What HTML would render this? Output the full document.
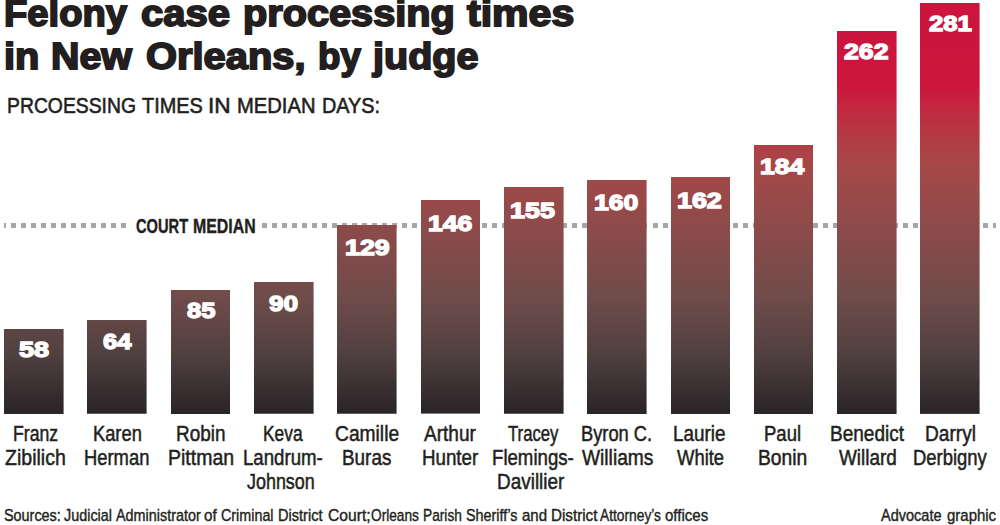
<!DOCTYPE html>
<html><head><meta charset="utf-8"><style>
html,body{margin:0;padding:0;background:#fff;width:1000px;height:525px;overflow:hidden;position:relative}
body{font-family:"Liberation Sans",sans-serif;color:#231f20}
.t{position:absolute;white-space:nowrap;transform-origin:0 0}
.dot{position:absolute;top:223px;height:5px;background:#a6a6a6}
.bar{position:absolute;width:59.6px;background-image:linear-gradient(to bottom, #cc143c 0px, #cc163c 85px, #c42640 105px, #b43a42 135px, #a64848 165px, #8e4a4a 225px, #704c4a 295px, #504040 355px, #322a2c 400px, #2a2526 414px);background-size:59.6px 414px;background-repeat:no-repeat}
</style></head><body>
<div class="dot" style="left:4.00px;width:2.20px"></div><div class="dot" style="left:11.22px;width:5.00px"></div><div class="dot" style="left:21.24px;width:5.00px"></div><div class="dot" style="left:31.26px;width:5.00px"></div><div class="dot" style="left:41.28px;width:5.00px"></div><div class="dot" style="left:51.30px;width:5.00px"></div><div class="dot" style="left:61.32px;width:5.00px"></div><div class="dot" style="left:71.34px;width:5.00px"></div><div class="dot" style="left:81.36px;width:5.00px"></div><div class="dot" style="left:91.38px;width:5.00px"></div><div class="dot" style="left:101.40px;width:5.00px"></div><div class="dot" style="left:111.42px;width:5.00px"></div><div class="dot" style="left:121.44px;width:5.00px"></div><div class="dot" style="left:261.72px;width:5.00px"></div><div class="dot" style="left:271.74px;width:5.00px"></div><div class="dot" style="left:281.76px;width:5.00px"></div><div class="dot" style="left:291.78px;width:5.00px"></div><div class="dot" style="left:301.80px;width:5.00px"></div><div class="dot" style="left:311.82px;width:5.00px"></div><div class="dot" style="left:321.84px;width:5.00px"></div><div class="dot" style="left:331.86px;width:5.00px"></div><div class="dot" style="left:341.88px;width:5.00px"></div><div class="dot" style="left:351.90px;width:5.00px"></div><div class="dot" style="left:361.92px;width:5.00px"></div><div class="dot" style="left:371.94px;width:5.00px"></div><div class="dot" style="left:381.96px;width:5.00px"></div><div class="dot" style="left:391.98px;width:5.00px"></div><div class="dot" style="left:402.00px;width:5.00px"></div><div class="dot" style="left:412.02px;width:5.00px"></div><div class="dot" style="left:422.04px;width:5.00px"></div><div class="dot" style="left:432.06px;width:5.00px"></div><div class="dot" style="left:442.08px;width:5.00px"></div><div class="dot" style="left:452.10px;width:5.00px"></div><div class="dot" style="left:462.12px;width:5.00px"></div><div class="dot" style="left:472.14px;width:5.00px"></div><div class="dot" style="left:482.16px;width:5.00px"></div><div class="dot" style="left:492.18px;width:5.00px"></div><div class="dot" style="left:502.20px;width:5.00px"></div><div class="dot" style="left:512.22px;width:5.00px"></div><div class="dot" style="left:522.24px;width:5.00px"></div><div class="dot" style="left:532.26px;width:5.00px"></div><div class="dot" style="left:542.28px;width:5.00px"></div><div class="dot" style="left:552.30px;width:5.00px"></div><div class="dot" style="left:562.32px;width:5.00px"></div><div class="dot" style="left:572.34px;width:5.00px"></div><div class="dot" style="left:582.36px;width:5.00px"></div><div class="dot" style="left:592.38px;width:5.00px"></div><div class="dot" style="left:602.40px;width:5.00px"></div><div class="dot" style="left:612.42px;width:5.00px"></div><div class="dot" style="left:622.44px;width:5.00px"></div><div class="dot" style="left:632.46px;width:5.00px"></div><div class="dot" style="left:642.48px;width:5.00px"></div><div class="dot" style="left:652.50px;width:5.00px"></div><div class="dot" style="left:662.52px;width:5.00px"></div><div class="dot" style="left:672.54px;width:5.00px"></div><div class="dot" style="left:682.56px;width:5.00px"></div><div class="dot" style="left:692.58px;width:5.00px"></div><div class="dot" style="left:702.60px;width:5.00px"></div><div class="dot" style="left:712.62px;width:5.00px"></div><div class="dot" style="left:722.64px;width:5.00px"></div><div class="dot" style="left:732.66px;width:5.00px"></div><div class="dot" style="left:742.68px;width:5.00px"></div><div class="dot" style="left:752.70px;width:5.00px"></div><div class="dot" style="left:762.72px;width:5.00px"></div><div class="dot" style="left:772.74px;width:5.00px"></div><div class="dot" style="left:782.76px;width:5.00px"></div><div class="dot" style="left:792.78px;width:5.00px"></div><div class="dot" style="left:802.80px;width:5.00px"></div><div class="dot" style="left:812.82px;width:5.00px"></div><div class="dot" style="left:822.84px;width:5.00px"></div><div class="dot" style="left:832.86px;width:5.00px"></div><div class="dot" style="left:842.88px;width:5.00px"></div><div class="dot" style="left:852.90px;width:5.00px"></div><div class="dot" style="left:862.92px;width:5.00px"></div><div class="dot" style="left:872.94px;width:5.00px"></div><div class="dot" style="left:882.96px;width:5.00px"></div><div class="dot" style="left:892.98px;width:5.00px"></div><div class="dot" style="left:903.00px;width:5.00px"></div><div class="dot" style="left:913.02px;width:5.00px"></div><div class="dot" style="left:923.04px;width:5.00px"></div><div class="dot" style="left:933.06px;width:5.00px"></div><div class="dot" style="left:943.08px;width:5.00px"></div><div class="dot" style="left:953.10px;width:5.00px"></div><div class="dot" style="left:963.12px;width:5.00px"></div><div class="dot" style="left:973.14px;width:5.00px"></div><div class="dot" style="left:983.16px;width:5.00px"></div><div class="dot" style="left:993.18px;width:2.82px"></div>
<div class="bar" style="left:4.15px;top:329.03px;height:84.77px;background-position:0 -329.03px"></div><div class="bar" style="left:87.45px;top:320.26px;height:93.54px;background-position:0 -320.26px"></div><div class="bar" style="left:170.75px;top:289.57px;height:124.23px;background-position:0 -289.57px"></div><div class="bar" style="left:254.05px;top:282.26px;height:131.53px;background-position:0 -282.26px"></div><div class="bar" style="left:337.35px;top:225.27px;height:188.53px;background-position:0 -225.27px"></div><div class="bar" style="left:420.65px;top:200.42px;height:213.38px;background-position:0 -200.42px"></div><div class="bar" style="left:503.95px;top:187.27px;height:226.53px;background-position:0 -187.27px"></div><div class="bar" style="left:587.25px;top:179.96px;height:233.84px;background-position:0 -179.96px"></div><div class="bar" style="left:670.55px;top:177.04px;height:236.76px;background-position:0 -177.04px"></div><div class="bar" style="left:753.85px;top:144.88px;height:268.92px;background-position:0 -144.88px"></div><div class="bar" style="left:837.15px;top:30.89px;height:382.91px;background-position:0 -30.89px"></div><div class="bar" style="left:920.45px;top:3.12px;height:410.68px;background-position:0 -3.12px"></div>
<div class="t ti" style="left:4.48px;top:-3.80px;font-size:36px;line-height:36px;transform:scaleX(1.0599);color:#231f20;font-weight:bold;-webkit-text-stroke:1.8px #231f20">Felony</div><div class="t ti" style="left:141.40px;top:-3.80px;font-size:36px;line-height:36px;transform:scaleX(1.1111);color:#231f20;font-weight:bold;-webkit-text-stroke:1.8px #231f20">case</div><div class="t ti" style="left:243.41px;top:-3.80px;font-size:36px;line-height:36px;transform:scaleX(1.1026);color:#231f20;font-weight:bold;-webkit-text-stroke:1.8px #231f20">processing</div><div class="t ti" style="left:466.71px;top:-3.80px;font-size:36px;line-height:36px;transform:scaleX(1.1399);color:#231f20;font-weight:bold;-webkit-text-stroke:1.8px #231f20">times</div><div class="t ti" style="left:4.31px;top:39.00px;font-size:36px;line-height:36px;transform:scaleX(1.1042);color:#231f20;font-weight:bold;-webkit-text-stroke:1.8px #231f20">in</div><div class="t ti" style="left:50.83px;top:39.00px;font-size:36px;line-height:36px;transform:scaleX(1.0920);color:#231f20;font-weight:bold;-webkit-text-stroke:1.8px #231f20">New</div><div class="t ti" style="left:146.20px;top:39.00px;font-size:36px;line-height:36px;transform:scaleX(1.1069);color:#231f20;font-weight:bold;-webkit-text-stroke:1.8px #231f20">Orleans,</div><div class="t ti" style="left:317.53px;top:39.00px;font-size:36px;line-height:36px;transform:scaleX(1.0189);color:#231f20;font-weight:bold;-webkit-text-stroke:1.8px #231f20">by</div><div class="t ti" style="left:373.08px;top:39.00px;font-size:36px;line-height:36px;transform:scaleX(1.0988);color:#231f20;font-weight:bold;-webkit-text-stroke:1.8px #231f20">judge</div><div class="t sub" style="left:7.40px;top:95.20px;font-size:22.6px;line-height:22.6px;transform:scaleX(0.8564);color:#231f20;-webkit-text-stroke:0.6px #231f20">PRCOESSING</div><div class="t sub" style="left:141.75px;top:95.20px;font-size:22.6px;line-height:22.6px;transform:scaleX(0.8813);color:#231f20;-webkit-text-stroke:0.6px #231f20">TIMES</div><div class="t sub" style="left:207.90px;top:95.20px;font-size:22.6px;line-height:22.6px;transform:scaleX(1.0029);color:#231f20;-webkit-text-stroke:0.6px #231f20">IN</div><div class="t sub" style="left:236.83px;top:95.20px;font-size:22.6px;line-height:22.6px;transform:scaleX(0.8933);color:#231f20;-webkit-text-stroke:0.6px #231f20">MEDIAN</div><div class="t sub" style="left:321.86px;top:95.20px;font-size:22.6px;line-height:22.6px;transform:scaleX(0.8793);color:#231f20;-webkit-text-stroke:0.6px #231f20">DAYS:</div><div class="t cm" style="left:135.61px;top:215.60px;font-size:20.3px;line-height:20.3px;transform:scaleX(0.7238);color:#231f20;font-weight:bold;-webkit-text-stroke:0.4px #231f20">COURT</div><div class="t cm" style="left:192.93px;top:215.60px;font-size:20.3px;line-height:20.3px;transform:scaleX(0.7835);color:#231f20;font-weight:bold;-webkit-text-stroke:0.4px #231f20">MEDIAN</div><div class="t src" style="left:3.85px;top:507.60px;font-size:16.7px;line-height:16.7px;transform:scaleX(0.8628);color:#231f20;-webkit-text-stroke:0.4px #231f20">Sources:</div><div class="t src" style="left:63.68px;top:507.60px;font-size:16.7px;line-height:16.7px;transform:scaleX(0.8616);color:#231f20;-webkit-text-stroke:0.4px #231f20">Judicial</div><div class="t src" style="left:116.06px;top:507.60px;font-size:16.7px;line-height:16.7px;transform:scaleX(0.8616);color:#231f20;-webkit-text-stroke:0.4px #231f20">Administrator</div><div class="t src" style="left:204.45px;top:507.60px;font-size:16.7px;line-height:16.7px;transform:scaleX(0.9143);color:#231f20;-webkit-text-stroke:0.4px #231f20">of</div><div class="t src" style="left:221.48px;top:507.60px;font-size:16.7px;line-height:16.7px;transform:scaleX(0.8586);color:#231f20;-webkit-text-stroke:0.4px #231f20">Criminal</div><div class="t src" style="left:277.70px;top:507.60px;font-size:16.7px;line-height:16.7px;transform:scaleX(0.8725);color:#231f20;-webkit-text-stroke:0.4px #231f20">District</div><div class="t src" style="left:327.62px;top:507.60px;font-size:16.7px;line-height:16.7px;transform:scaleX(0.9368);color:#231f20;-webkit-text-stroke:0.4px #231f20">Court;</div><div class="t src" style="left:370.85px;top:507.60px;font-size:16.7px;line-height:16.7px;transform:scaleX(0.8200);color:#231f20;-webkit-text-stroke:0.4px #231f20">Orleans</div><div class="t src" style="left:423.47px;top:507.60px;font-size:16.7px;line-height:16.7px;transform:scaleX(0.8222);color:#231f20;-webkit-text-stroke:0.4px #231f20">Parish</div><div class="t src" style="left:466.25px;top:507.60px;font-size:16.7px;line-height:16.7px;transform:scaleX(0.8592);color:#231f20;-webkit-text-stroke:0.4px #231f20">Sheriff’s</div><div class="t src" style="left:521.96px;top:507.60px;font-size:16.7px;line-height:16.7px;transform:scaleX(0.9006);color:#231f20;-webkit-text-stroke:0.4px #231f20">and</div><div class="t src" style="left:550.75px;top:507.60px;font-size:16.7px;line-height:16.7px;transform:scaleX(0.9108);color:#231f20;-webkit-text-stroke:0.4px #231f20">District</div><div class="t src" style="left:600.27px;top:507.60px;font-size:16.7px;line-height:16.7px;transform:scaleX(0.8252);color:#231f20;-webkit-text-stroke:0.4px #231f20">Attorney’s</div><div class="t src" style="left:664.76px;top:507.60px;font-size:16.7px;line-height:16.7px;transform:scaleX(0.9006);color:#231f20;-webkit-text-stroke:0.4px #231f20">offices</div><div class="t src" style="left:881.01px;top:507.80px;font-size:16.7px;line-height:16.7px;transform:scaleX(0.8693);color:#231f20;-webkit-text-stroke:0.4px #231f20">Advocate</div><div class="t src" style="left:946.76px;top:507.80px;font-size:16.7px;line-height:16.7px;transform:scaleX(0.8973);color:#231f20;-webkit-text-stroke:0.4px #231f20">graphic</div><div class="t lab" style="left:13.34px;top:422.80px;font-size:21.6px;line-height:21.6px;transform:scaleX(0.8171);color:#231f20;-webkit-text-stroke:0.5px #231f20">Franz</div><div class="t lab" style="left:5.27px;top:446.80px;font-size:21.6px;line-height:21.6px;transform:scaleX(0.9044);color:#231f20;-webkit-text-stroke:0.5px #231f20">Zibilich</div><div class="t lab" style="left:92.59px;top:422.80px;font-size:21.6px;line-height:21.6px;transform:scaleX(0.8469);color:#231f20;-webkit-text-stroke:0.5px #231f20">Karen</div><div class="t lab" style="left:84.38px;top:446.80px;font-size:21.6px;line-height:21.6px;transform:scaleX(0.8513);color:#231f20;-webkit-text-stroke:0.5px #231f20">Herman</div><div class="t lab" style="left:176.34px;top:422.80px;font-size:21.6px;line-height:21.6px;transform:scaleX(0.8771);color:#231f20;-webkit-text-stroke:0.5px #231f20">Robin</div><div class="t lab" style="left:168.29px;top:446.80px;font-size:21.6px;line-height:21.6px;transform:scaleX(0.9024);color:#231f20;-webkit-text-stroke:0.5px #231f20">Pittman</div><div class="t lab" style="left:263.17px;top:422.80px;font-size:21.6px;line-height:21.6px;transform:scaleX(0.8048);color:#231f20;-webkit-text-stroke:0.5px #231f20">Keva</div><div class="t lab" style="left:243.46px;top:446.80px;font-size:21.6px;line-height:21.6px;transform:scaleX(0.8629);color:#231f20;-webkit-text-stroke:0.5px #231f20">Landrum-</div><div class="t lab" style="left:247.33px;top:470.70px;font-size:21.6px;line-height:21.6px;transform:scaleX(0.8296);color:#231f20;-webkit-text-stroke:0.5px #231f20">Johnson</div><div class="t lab" style="left:335.14px;top:422.80px;font-size:21.6px;line-height:21.6px;transform:scaleX(0.8902);color:#231f20;-webkit-text-stroke:0.5px #231f20">Camille</div><div class="t lab" style="left:341.84px;top:446.80px;font-size:21.6px;line-height:21.6px;transform:scaleX(0.8748);color:#231f20;-webkit-text-stroke:0.5px #231f20">Buras</div><div class="t lab" style="left:424.45px;top:422.80px;font-size:21.6px;line-height:21.6px;transform:scaleX(0.8814);color:#231f20;-webkit-text-stroke:0.5px #231f20">Arthur</div><div class="t lab" style="left:422.05px;top:446.80px;font-size:21.6px;line-height:21.6px;transform:scaleX(0.8677);color:#231f20;-webkit-text-stroke:0.5px #231f20">Hunter</div><div class="t lab" style="left:507.52px;top:422.80px;font-size:21.6px;line-height:21.6px;transform:scaleX(0.7744);color:#231f20;-webkit-text-stroke:0.5px #231f20">Tracey</div><div class="t lab" style="left:491.56px;top:446.80px;font-size:21.6px;line-height:21.6px;transform:scaleX(0.8624);color:#231f20;-webkit-text-stroke:0.5px #231f20">Flemings-</div><div class="t lab" style="left:496.94px;top:470.70px;font-size:21.6px;line-height:21.6px;transform:scaleX(0.8771);color:#231f20;-webkit-text-stroke:0.5px #231f20">Davillier</div><div class="t lab" style="left:581.19px;top:422.80px;font-size:21.6px;line-height:21.6px;transform:scaleX(0.8468);color:#231f20;-webkit-text-stroke:0.5px #231f20">Byron C.</div><div class="t lab" style="left:581.70px;top:446.80px;font-size:21.6px;line-height:21.6px;transform:scaleX(0.8882);color:#231f20;-webkit-text-stroke:0.5px #231f20">Williams</div><div class="t lab" style="left:673.44px;top:422.80px;font-size:21.6px;line-height:21.6px;transform:scaleX(0.8744);color:#231f20;-webkit-text-stroke:0.5px #231f20">Laurie</div><div class="t lab" style="left:676.91px;top:446.80px;font-size:21.6px;line-height:21.6px;transform:scaleX(0.8530);color:#231f20;-webkit-text-stroke:0.5px #231f20">White</div><div class="t lab" style="left:763.87px;top:422.80px;font-size:21.6px;line-height:21.6px;transform:scaleX(0.8572);color:#231f20;-webkit-text-stroke:0.5px #231f20">Paul</div><div class="t lab" style="left:757.91px;top:446.80px;font-size:21.6px;line-height:21.6px;transform:scaleX(0.8913);color:#231f20;-webkit-text-stroke:0.5px #231f20">Bonin</div><div class="t lab" style="left:829.53px;top:422.80px;font-size:21.6px;line-height:21.6px;transform:scaleX(0.8803);color:#231f20;-webkit-text-stroke:0.5px #231f20">Benedict</div><div class="t lab" style="left:838.91px;top:446.80px;font-size:21.6px;line-height:21.6px;transform:scaleX(0.8763);color:#231f20;-webkit-text-stroke:0.5px #231f20">Willard</div><div class="t lab" style="left:924.92px;top:422.80px;font-size:21.6px;line-height:21.6px;transform:scaleX(0.8845);color:#231f20;-webkit-text-stroke:0.5px #231f20">Darryl</div><div class="t lab" style="left:913.08px;top:446.80px;font-size:21.6px;line-height:21.6px;transform:scaleX(0.8544);color:#231f20;-webkit-text-stroke:0.5px #231f20">Derbigny</div><div class="t num" style="left:18.82px;top:339.45px;font-size:22.0px;line-height:22.0px;transform:scaleX(1.2336);color:#fff;font-weight:bold;-webkit-text-stroke:1.3px #fff">58</div><div class="t num" style="left:102.70px;top:330.65px;font-size:22.0px;line-height:22.0px;transform:scaleX(1.1594);color:#fff;font-weight:bold;-webkit-text-stroke:1.3px #fff">64</div><div class="t num" style="left:186.72px;top:299.95px;font-size:22.0px;line-height:22.0px;transform:scaleX(1.1613);color:#fff;font-weight:bold;-webkit-text-stroke:1.3px #fff">85</div><div class="t num" style="left:269.26px;top:292.55px;font-size:22.0px;line-height:22.0px;transform:scaleX(1.1938);color:#fff;font-weight:bold;-webkit-text-stroke:1.3px #fff">90</div><div class="t num" style="left:344.72px;top:237.15px;font-size:22.0px;line-height:22.0px;transform:scaleX(1.2165);color:#fff;font-weight:bold;-webkit-text-stroke:1.3px #fff">129</div><div class="t num" style="left:427.82px;top:212.65px;font-size:22.0px;line-height:22.0px;transform:scaleX(1.2081);color:#fff;font-weight:bold;-webkit-text-stroke:1.3px #fff">146</div><div class="t num" style="left:510.11px;top:199.95px;font-size:22.0px;line-height:22.0px;transform:scaleX(1.2221);color:#fff;font-weight:bold;-webkit-text-stroke:1.3px #fff">155</div><div class="t num" style="left:593.92px;top:191.55px;font-size:22.0px;line-height:22.0px;transform:scaleX(1.2091);color:#fff;font-weight:bold;-webkit-text-stroke:1.3px #fff">160</div><div class="t num" style="left:676.52px;top:189.95px;font-size:22.0px;line-height:22.0px;transform:scaleX(1.2203);color:#fff;font-weight:bold;-webkit-text-stroke:1.3px #fff">162</div><div class="t num" style="left:759.53px;top:155.95px;font-size:22.0px;line-height:22.0px;transform:scaleX(1.2055);color:#fff;font-weight:bold;-webkit-text-stroke:1.3px #fff">184</div><div class="t num" style="left:844.45px;top:40.95px;font-size:22.0px;line-height:22.0px;transform:scaleX(1.2110);color:#fff;font-weight:bold;-webkit-text-stroke:1.3px #fff">262</div><div class="t num" style="left:928.66px;top:13.15px;font-size:22.0px;line-height:22.0px;transform:scaleX(1.1691);color:#fff;font-weight:bold;-webkit-text-stroke:1.3px #fff">281</div>
</body></html>
